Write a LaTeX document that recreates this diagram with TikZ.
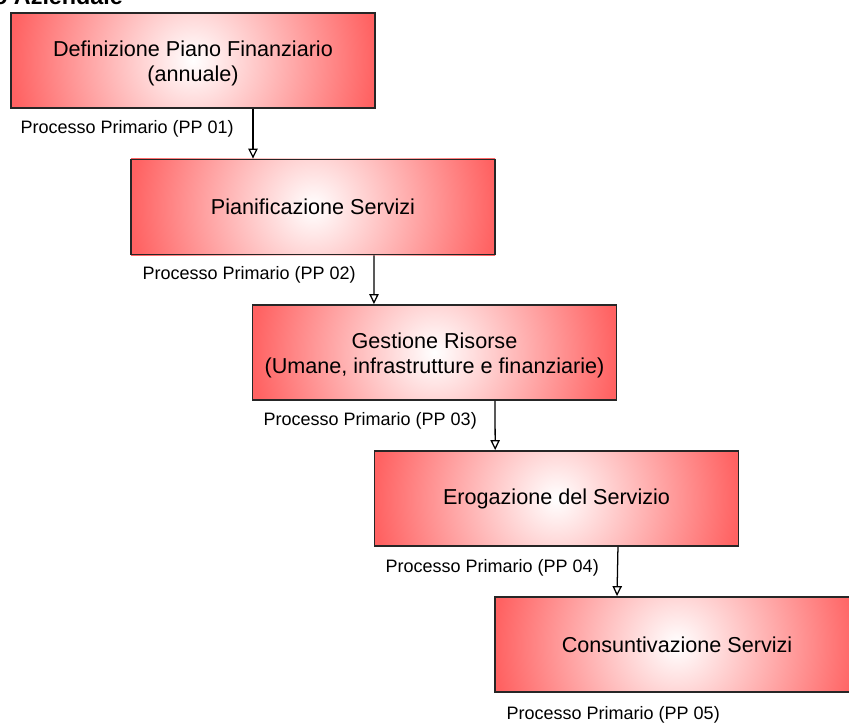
\documentclass[tikz,border=0pt]{standalone}
\usepackage{fontspec}
\setmainfont{Liberation Sans}
\usetikzlibrary{arrows.meta,backgrounds}
\definecolor{boxred}{RGB}{255,98,98}
\newcommand{\liftfix}{\rule{0pt}{16.3pt}}
\begin{document}
\begin{tikzpicture}[x=0.75pt,y=-0.75pt,
  procbox/.style={draw=black!85,line width=1.1pt,minimum width=273pt,minimum height=71.5pt,
    inner sep=0pt,align=center,font=\fontsize{16.2pt}{18.8pt}\selectfont},
  plabel/.style={anchor=west,font=\fontsize{13.5pt}{16pt}\selectfont},
  flow/.style={line width=0.95pt,-{Triangle[open,width=7pt,length=7.5pt]}}]
\useasboundingbox (0,0) rectangle (849,724);
\node[anchor=base west,font=\bfseries\fontsize{17.5pt}{20pt}\selectfont,inner sep=0pt] (ttl) at (-7,5) {o Aziendale};
\node[procbox] (b1) at (193,60.5) {\liftfix Definizione Piano Finanziario\\(annuale)};
\node[procbox] (b2) at (313,207) {Pianificazione Servizi};
\node[procbox] (b3) at (434.5,352.5) {\liftfix Gestione Risorse\\(Umane, infrastrutture e finanziarie)};
\node[procbox] (b4) at (556.5,498.5) {Erogazione del Servizio};
\node[procbox] (b5) at (677,644.5) {Consuntivazione Servizi};
\begin{scope}[on background layer]
\foreach \n in {b1,b2,b3,b4,b5}{
  \begin{scope}
  \clip (\n.north west) rectangle (\n.south east);
  \shade[inner color=white,outer color=boxred]
    ([shift={(-182,-182)}]\n.center) rectangle ([shift={(182,182)}]\n.center);
  \end{scope}
}
\end{scope}
\draw[flow] ([xshift=45pt]b1.south) -- ([xshift=-45pt]b2.north);
\draw[flow] ([xshift=45.75pt]b2.south) -- ([xshift=-45.4pt]b3.north);
\draw[flow] ([xshift=45.4pt]b3.south) -- ([xshift=-46pt]b4.north);
\draw[flow] ([xshift=46.1pt]b4.south) -- ([xshift=-45pt]b5.north);
\node[plabel] (l1) at (16,129) {Processo Primario (PP 01)};
\node[plabel] (l2) at (138,275) {Processo Primario (PP 02)};
\node[plabel] (l3) at (259,421) {Processo Primario (PP 03)};
\node[plabel] (l4) at (381,568) {Processo Primario (PP 04)};
\node[plabel] (l5) at (502,715) {Processo Primario (PP 05)};
\end{tikzpicture}
\end{document}
